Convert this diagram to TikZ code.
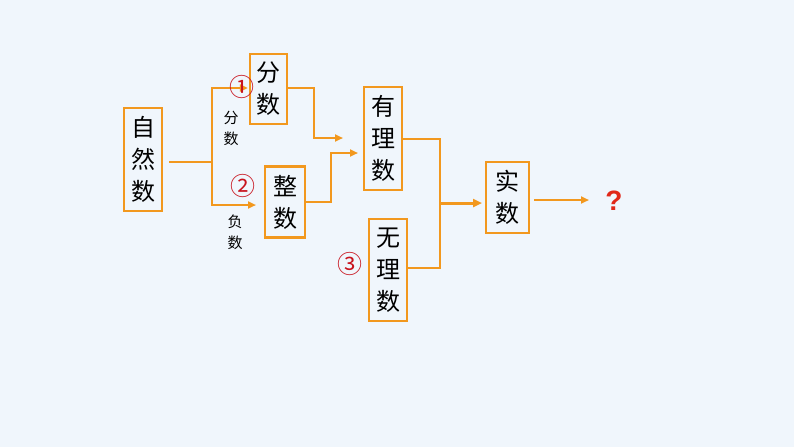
\documentclass[tikz,border=0pt]{standalone}
\usepackage{fontspec}
\newfontfamily\cjk{Noto Sans CJK SC}
\newfontfamily\qfont{Liberation Sans}
\usetikzlibrary{arrows.meta}
\definecolor{bg}{RGB}{240,246,252}
\definecolor{org}{RGB}{242,152,30}
\definecolor{cred}{RGB}{200,20,30}
\definecolor{qred}{RGB}{225,40,25}
\tikzset{
  box/.style={draw=org, line width=2.2pt, fill=bg, inner sep=0pt, align=center, font=\cjk\fontsize{24}{32}\selectfont},
  link/.style={draw=org, line width=2.2pt},
  arr/.style={link, -{Triangle[length=8pt,width=7pt]}},
  small/.style={align=center, font=\cjk\fontsize{15}{21}\selectfont},
  circ/.style={text=cred, font=\cjk\fontsize{25}{25}\selectfont, inner sep=0pt}
}
\begin{document}
\begin{tikzpicture}[x=1pt,y=-1pt]
\fill[bg] (0,0) rectangle (794,447);
\useasboundingbox (0,0) rectangle (794,447);
\node[box, minimum width=38pt, minimum height=103pt] (zrs) at (143,159.5) {自\\然\\数};
\node[box, minimum width=37pt, minimum height=70pt] (fs) at (268.5,89) {分\\数};
\node[box, minimum width=40pt, minimum height=71pt] (zs) at (285,202) {整\\数};
\node[box, minimum width=38pt, minimum height=103pt] (yls) at (383,138.5) {有\\理\\数};
\node[box, minimum width=43pt, minimum height=71pt] (sls) at (507.5,197.5) {实\\数};
\node[box, minimum width=38pt, minimum height=102pt] (wls) at (388,270) {无\\理\\数};
\node[text=qred, font=\qfont\bfseries\fontsize{28}{28}\selectfont, inner sep=0pt] (q) at (614,201) {?};
\node[small] (lfs) at (231,128) {分\\数};
\node[small] (lfu) at (235,232) {负\\数};
\coordinate (j1) at (212,162);
\coordinate (a2) at (256,205);
\coordinate (a3) at (343,138);
\coordinate (a4) at (358,153);
\coordinate (j2) at (440,203);
\coordinate (a5) at (482,203);
\coordinate (a6) at (589,200);
\draw[link] ([xshift=6pt,yshift=-2.5pt]zrs.east) -- (j1);
\draw[arr] (j1) |- ([xshift=-1pt,yshift=1pt]fs.west);
\draw[arr] (j1) |- (a2);
\draw[arr] ([yshift=1pt]fs.east) -| (314,138) -- (a3);
\draw[arr] (zs.east) -| (331,153) -- (a4);
\draw[link] ([yshift=-0.5pt]yls.east) -| (j2);
\draw[link] ([yshift=2pt]wls.east) -| (j2);
\draw[link, line width=3pt, -{Triangle[length=9pt,width=8pt]}] (j2) -- (a5);
\draw[arr] ([xshift=4pt,yshift=-2.5pt]sls.east) -- (a6);
\node[circ] (c1) at (242,87) {①};
\node[circ] (c2) at (243,186) {②};
\node[circ] (c3) at (350,264) {③};
\end{tikzpicture}
\end{document}
